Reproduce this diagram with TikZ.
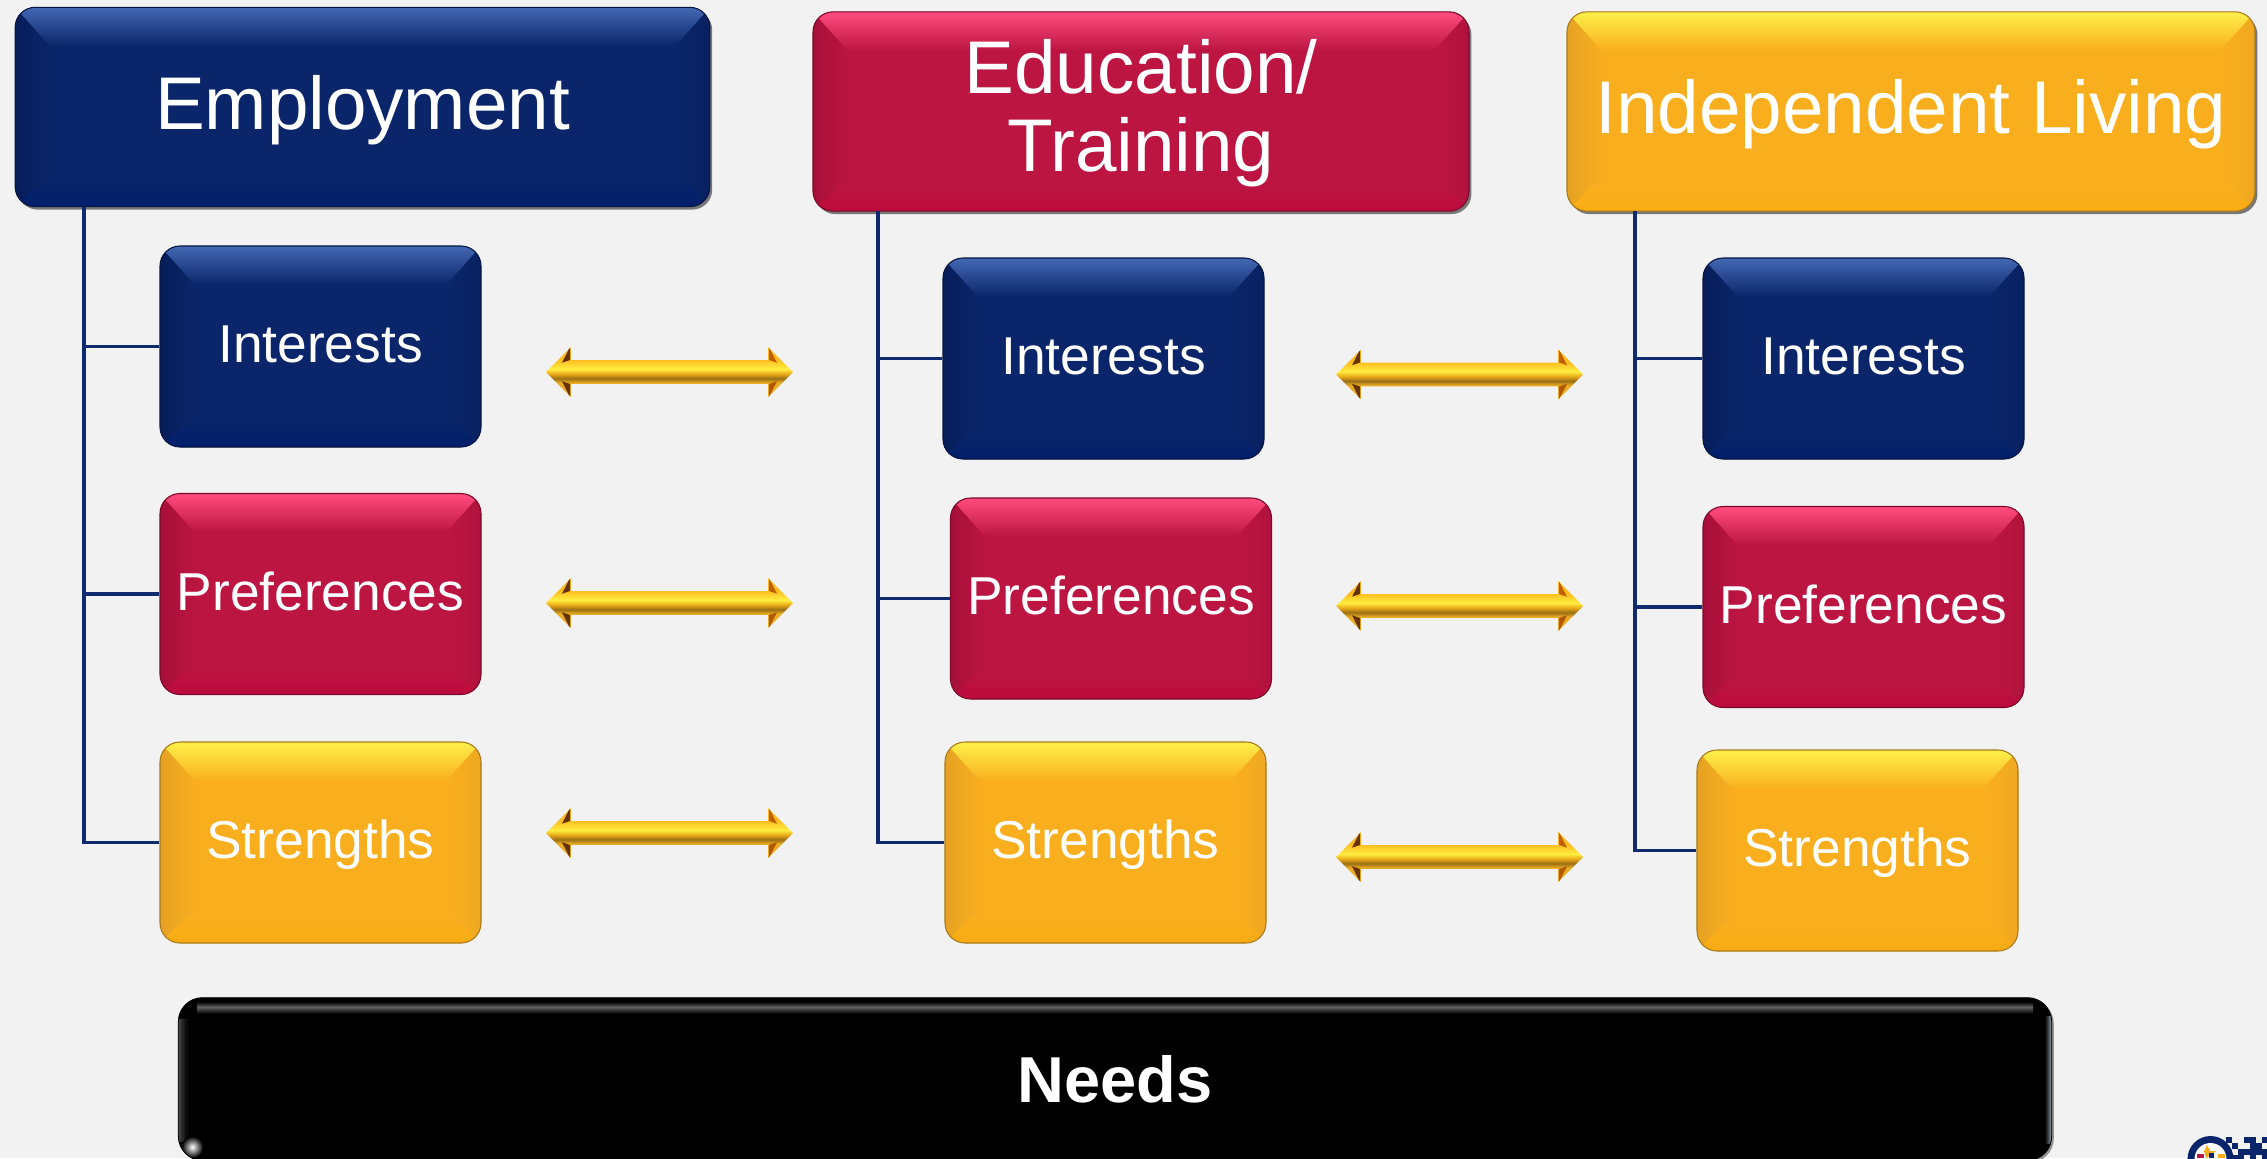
\documentclass[tikz,border=0pt]{standalone}
\usepackage{fontspec}
\setmainfont{Liberation Sans}
\usetikzlibrary{shapes.arrows,shadows}
\definecolor{pagebg}{HTML}{F2F2F2}
\definecolor{linknavy}{HTML}{0F2A6E}
\definecolor{navybase}{HTML}{0A2569}
\definecolor{navytop}{HTML}{4468B4}
\definecolor{navyside}{HTML}{061C58}
\definecolor{navylow}{HTML}{001E6B}
\definecolor{redbase}{HTML}{BC1542}
\definecolor{redtop}{HTML}{FF4C7E}
\definecolor{redside}{HTML}{A40E38}
\definecolor{redlow}{HTML}{BC0A3C}
\definecolor{goldbase}{HTML}{F9AE1E}
\definecolor{goldtop}{HTML}{FFF04A}
\definecolor{goldside}{HTML}{E2A024}
\definecolor{goldlow}{HTML}{F9AC12}
\definecolor{needsleft}{HTML}{525252}
\definecolor{needsright}{HTML}{A8BCC4}
\definecolor{barA}{HTML}{E9AC22}
\definecolor{barB}{HTML}{9A6F14}
\definecolor{barC}{HTML}{E8A818}
\definecolor{barD}{HTML}{FFEE40}
\definecolor{barE}{HTML}{FDBB1E}
\pgfdeclareverticalshading{goldbar}{100bp}{color(0bp)=(barA); color(39.3bp)=(barA); color(43.5bp)=(barB); color(48bp)=(barC); color(53bp)=(barD); color(62.8bp)=(barE); color(100bp)=(barE)}
% sideways fade: lower end, upper end, step, number of steps, edge colour, inner colour
\newcommand{\sidefade}[6]{%
  \foreach \k [evaluate=\k as \mix using {100*(1-\k/#4)^1.4}] in {1,...,#4}
    \fill[sharp corners, #5!\mix!#6] ([xshift={(\k-1)*#3}]#1) rectangle ([xshift={(\k+0.2)*#3}]#2);
}
\tikzset{every picture/.style={line width=0.75pt}}
\tikzset{
  bevelbox/.style n args={4}{rounded corners=15pt, draw=#3!75!black, line width=0.8pt, fill=#2, text=white, align=center, inner sep=0pt,
    path picture={
      \sidefade{path picture bounding box.south west}{path picture bounding box.north west}{2pt}{16}{#3}{#2}
      \sidefade{path picture bounding box.south east}{path picture bounding box.north east}{-2pt}{13}{#3!50!#2}{#2}
      \shade[sharp corners, top color=#1, middle color=#1!35!#2, bottom color=#2] (path picture bounding box.north west) -- (path picture bounding box.north east) -- ([shift={(-26pt,-29pt)}]path picture bounding box.north east) -- ([shift={(26pt,-29pt)}]path picture bounding box.north west) -- cycle;
      \shade[sharp corners, bottom color=#4, top color=#2] (path picture bounding box.south west) -- (path picture bounding box.south east) -- ([shift={(-20pt,20pt)}]path picture bounding box.south east) -- ([shift={(20pt,20pt)}]path picture bounding box.south west) -- cycle;
    }},
  navybox/.style={bevelbox={navytop}{navybase}{navyside}{navylow}},
  redbox/.style={bevelbox={redtop}{redbase}{redside}{redlow}},
  goldbox/.style={bevelbox={goldtop}{goldbase}{goldside}{goldlow}},
  smallbox/.style={minimum width=240.75pt, minimum height=150.75pt, font=\fontsize{40}{43}\selectfont, text height=30.8pt, text depth=6.4pt},
  headbox/.style={minimum height=149.5pt, font=\fontsize{56}{58.5}\selectfont, text height=42.6pt, text depth=9pt, drop shadow={shadow xshift=1.8pt, shadow yshift=-2.2pt, opacity=0.5, fill=black}},
  needsbox/.style={rounded corners=18pt, fill=black, draw=black, line width=0.6pt, text=white, inner sep=0pt, minimum width=1405pt, minimum height=122pt, font=\fontsize{48.7}{52}\selectfont\bfseries, drop shadow={shadow xshift=1.6pt, shadow yshift=-1.6pt, opacity=0.4, fill=black},
    path picture={
      \coordinate (fadeSW) at ([yshift=14pt]path picture bounding box.south west);
      \coordinate (fadeNW) at ([yshift=-16pt]path picture bounding box.north west);
      \coordinate (fadeSE) at ([yshift=12pt]path picture bounding box.south east);
      \coordinate (fadeNE) at ([yshift=-14pt]path picture bounding box.north east);
      \shade[sharp corners, top color=black, bottom color=black!62] ([shift={(14pt,-3pt)}]path picture bounding box.north west) rectangle ([shift={(-14pt,-7pt)}]path picture bounding box.north east);
      \shade[sharp corners, top color=black!62, bottom color=black] ([shift={(14pt,-7pt)}]path picture bounding box.north west) rectangle ([shift={(-14pt,-12pt)}]path picture bounding box.north east);
      \sidefade{fadeSW}{fadeNW}{1pt}{9}{needsleft}{black}
      \sidefade{fadeSE}{fadeNE}{-0.7pt}{8}{needsright}{black}
      \shade[sharp corners, inner color=white, outer color=black] ([shift={(10.5pt,10pt)}]path picture bounding box.south west) circle (8pt);
    }},
  goldarrow/.style={shape=double arrow, double arrow head extend=9.75pt, double arrow head indent=0pt, minimum height=185.25pt, inner xsep=0pt, inner ysep=8.6pt, shade, shading=goldbar,
    path picture={
      \fill[black!60!orange] ([xshift=18pt]path picture bounding box.north west) -- ++(0pt,-9.75pt) -- ++(-6pt,-2pt) -- cycle;
      \fill[black!60!orange] ([xshift=18pt]path picture bounding box.south west) -- ++(0pt,9.75pt) -- ++(-6pt,2pt) -- cycle;
      \fill[black!25!orange] ([xshift=-18pt]path picture bounding box.north east) -- ++(0pt,-9.75pt) -- ++(6pt,-2pt) -- cycle;
      \fill[black!30!orange] ([xshift=-18pt]path picture bounding box.south east) -- ++(0pt,9.75pt) -- ++(6pt,2pt) -- cycle;
    }},
  linkline/.style={draw=linknavy, line width=2.6pt}
}

\begin{document}
\begin{tikzpicture}[x=0.75pt,y=0.75pt,yscale=-1,xscale=1]
\clip (0,0) rectangle (2267,1158);
\fill[pagebg] (0,0) rectangle (2267,1158);

%Straight Lines, trunks of the three columns
\coordinate (trunkA) at (84,207);
\coordinate (trunkB) at (878,211);
\coordinate (trunkC) at (1635,211);

% Text Node
\node [headbox, navybox, minimum width=521pt] (employment) at (362.5,107) {Employment};
\node [headbox, redbox, minimum width=492pt, text height=102.1pt, text depth=11.8pt] (education) at (1141,111.5) {Education/\\Training};
\node [headbox, goldbox, minimum width=516pt] (independent) at (1911,111.5) {Independent Living};

% Text Node
\node [smallbox, navybox] (interestsA) at (320.5,346.5) {Interests};
\node [smallbox, redbox] (preferencesA) at (320.5,594) {Preferences};
\node [smallbox, goldbox] (strengthsA) at (320.5,842.5) {Strengths};
\node [smallbox, navybox] (interestsB) at (1103.5,358.5) {Interests};
\node [smallbox, redbox] (preferencesB) at (1111,598.5) {Preferences};
\node [smallbox, goldbox] (strengthsB) at (1105.5,842.5) {Strengths};
\node [smallbox, navybox] (interestsC) at (1863.5,358.5) {Interests};
\node [smallbox, redbox] (preferencesC) at (1863.5,607) {Preferences};
\node [smallbox, goldbox] (strengthsC) at (1857.5,850.5) {Strengths};
\node [needsbox] (needs) at (1115,1079) {Needs};

%Straight Lines
\draw [linkline] (trunkA) |- (strengthsA.west);
\draw [linkline] (trunkA |- interestsA.west) -- (interestsA.west);
\draw [linkline] (trunkA |- preferencesA.west) -- (preferencesA.west);
\draw [linkline] (trunkB) |- (strengthsB.west);
\draw [linkline] (trunkB |- interestsB.west) -- (interestsB.west);
\draw [linkline] (trunkB |- preferencesB.west) -- (preferencesB.west);
\draw [linkline] (trunkC) |- (strengthsC.west);
\draw [linkline] (trunkC |- interestsC.west) -- (interestsC.west);
\draw [linkline] (trunkC |- preferencesC.west) -- (preferencesC.west);

%Shape: Double Arrow
\node [goldarrow] (arrowA) at (669.5,372) {};
\node [goldarrow] (arrowB) at (669.5,603) {};
\node [goldarrow] (arrowC) at (669.5,833) {};
\node [goldarrow] (arrowD) at (1459.5,374.5) {};
\node [goldarrow] (arrowE) at (1459.5,606) {};
\node [goldarrow] (arrowF) at (1459.5,857) {};

%Shape: Logo
\fill [navybase] (2210.5,1159) circle (23);
\fill [white] (2210.5,1159) circle (16);
\fill [goldbase] (2207,1145) -- (2210,1151) -- (2216,1151) -- (2211,1155) -- (2206,1158) -- (2204,1151) -- cycle;
\fill [redbase] (2197,1154) rectangle (2204,1158);
\fill [goldbase] (2218,1154) rectangle (2225,1158);
\fill [navybase] (2209,1153) rectangle (2214,1158);
\foreach \px/\py in {2226/1137,2232/1143,2244/1137,2250/1137,2250/1143,2256/1143,2262/1137,2244/1149,2250/1149,2238/1149,2256/1149,2262/1149,2238/1155,2250/1155,2262/1155,2232/1155}
  \fill [navybase] (\px,\py) rectangle ++(5.5,5.5);
\end{tikzpicture}
\end{document}
